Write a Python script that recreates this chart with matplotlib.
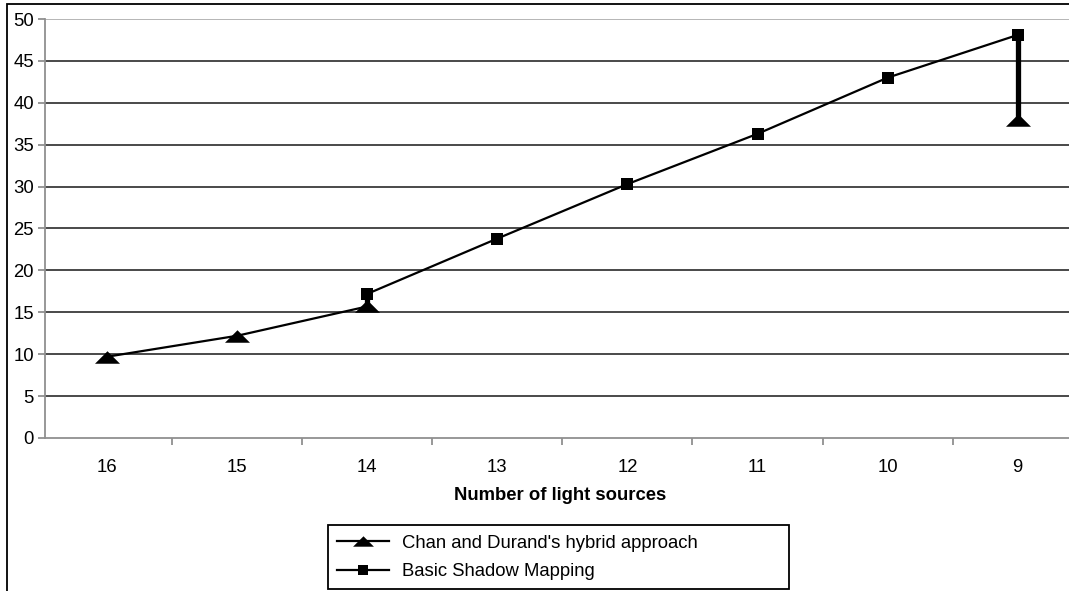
import numpy as np
import matplotlib
matplotlib.use("Agg")
import matplotlib.pyplot as plt
from matplotlib.patches import Rectangle
from matplotlib.lines import Line2D

plt.rcParams['font.family'] = ['Liberation Sans', 'DejaVu Sans']

# Data
light_sources = ["16", "15", "14", "13", "12", "11", "10", "9"]
hybrid = [9.7, 12.2, 15.7, np.nan, np.nan, np.nan, np.nan, 38.0]
basic = [np.nan, np.nan, 17.2, 23.8, 30.3, 36.3, 43.0, 48.1]
y_ticks = [0, 5, 10, 15, 20, 25, 30, 35, 40, 45, 50]
series_names = ["Chan and Durand's hybrid approach", "Basic Shadow Mapping"]
x_title = "Number of light sources"

FS = 13.3
W, H = 1069, 591
fig = plt.figure(figsize=(W / 100, H / 100), dpi=100)
fig.patch.set_facecolor("white")

# Plot area in pixel terms
left_px, right_px, top_px, bottom_px = 45, 1069, 19, 438
ax = fig.add_axes([left_px / W, 1 - bottom_px / H,
                   (right_px - left_px) / W, (bottom_px - top_px) / H])

x = np.arange(len(light_sources))
ax.set_xlim(-0.477, 7.394)
ax.set_ylim(0, 50)

# Horizontal gridlines
for v in y_ticks[1:]:
    col = "#b0b0b0" if v == 50 else "#3a3a3a"
    ax.axhline(v, color=col, lw=1.3, zorder=1)

# High-low connectors where both series exist
hy = np.array(hybrid)
bs = np.array(basic)
both = ~np.isnan(hy) & ~np.isnan(bs)
ax.vlines(x[both], hy[both], bs[both], color="black", lw=3.8, zorder=2)

tri = [(-1, -0.5), (1, -0.5), (0, 0.5)]
ax.plot(x, hybrid, color="black", lw=1.6, marker=tri, markersize=18,
        markeredgewidth=0, zorder=3, label=series_names[0])
ax.plot(x, basic, color="black", lw=1.6, marker="s", markersize=8,
        markeredgewidth=0, zorder=4, label=series_names[1])

# Axes styling
for s in ["top", "right"]:
    ax.spines[s].set_visible(False)
for s in ["left", "bottom"]:
    ax.spines[s].set_color("#909090")
    ax.spines[s].set_linewidth(1.3)

ax.set_yticks(y_ticks)
ax.set_yticklabels([str(v) for v in y_ticks])
ax.set_xticks(x)
ax.set_xticklabels(light_sources)
ax.set_xticks(x[:-1] + 0.5, minor=True)
ax.tick_params(axis="x", which="major", length=0, pad=15, labelsize=FS)
ax.tick_params(axis="x", which="minor", length=5, width=1.3, color="#909090",
               direction="out")
ax.tick_params(axis="y", length=5, width=1.3, color="#909090", pad=3,
               labelsize=FS)
ax.set_xlabel(x_title, fontsize=FS, fontweight="bold")
ax.xaxis.set_label_coords((560 - left_px) / (right_px - left_px),
                          -(487 - bottom_px) / (bottom_px - top_px))

# Legend box and entries
fig.patches.append(Rectangle((328 / W, 1 - 589 / H), (789 - 328) / W,
                             (589 - 525) / H, transform=fig.transFigure,
                             fill=False, edgecolor="black", lw=1.3))
handles = [
    Line2D([0], [0], color="black", lw=1.6, marker=tri, markersize=15,
           markeredgewidth=0),
    Line2D([0], [0], color="black", lw=1.6, marker="s", markersize=7,
           markeredgewidth=0),
]
fig.legend(handles, series_names, loc="center left",
           bbox_to_anchor=(337 / W, 1 - 557.5 / H), fontsize=FS,
           frameon=False, handlelength=2.8, handletextpad=0.7,
           borderpad=0, labelspacing=0.6, borderaxespad=0)

# Outer chart border
fig.patches.append(Rectangle((7 / W, -0.1), 1.2, 1.1 - 4 / H,
                             transform=fig.transFigure, fill=False,
                             edgecolor="black", lw=1.3))

fig.savefig("out.png", dpi=100)
